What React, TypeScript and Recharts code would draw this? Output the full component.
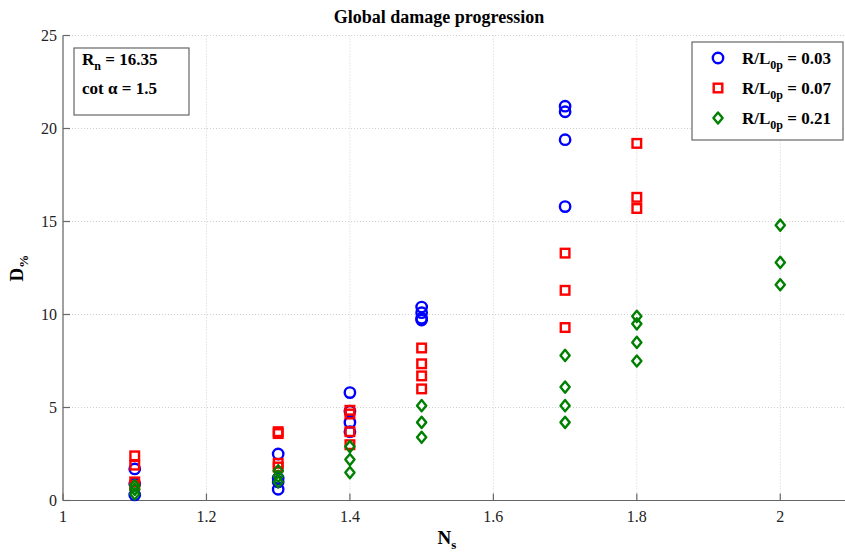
import React from 'react';
import { ScatterChart, Scatter, XAxis, YAxis, CartesianGrid, Customized } from 'recharts';

// N_s levels and D% values per series
const nsBlue = [1.1, 1.3, 1.4, 1.5, 1.7];
const dBlue = [
  [1.7, 0.9, 0.3],
  [2.5, 1.2, 1.0, 0.6],
  [5.8, 4.8, 4.2, 3.7],
  [10.4, 10.1, 9.8, 9.7],
  [21.2, 20.9, 19.4, 15.8],
];
const nsRed = [1.1, 1.3, 1.4, 1.5, 1.7, 1.8];
const dRed = [
  [2.4, 1.9, 1.0, 0.8],
  [3.7, 3.6, 2.0, 1.8],
  [4.85, 4.65, 3.7, 3.0],
  [8.2, 7.35, 6.7, 6.0],
  [13.3, 11.3, 9.3],
  [19.2, 16.3, 15.7],
];
const nsGreen = [1.1, 1.3, 1.4, 1.5, 1.7, 1.8, 2.0];
const dGreen = [
  [0.8, 0.6, 0.35],
  [1.6, 1.3, 1.0],
  [2.9, 2.2, 1.5],
  [5.1, 4.2, 3.4],
  [7.8, 6.1, 5.1, 4.2],
  [9.9, 9.5, 8.5, 7.5],
  [14.8, 12.8, 11.6],
];
const xTicks = [1, 1.2, 1.4, 1.6, 1.8, 2];
const yTicks = [0, 5, 10, 15, 20, 25];
const legendLabels = ['0.03', '0.07', '0.21'];

const toPoints = (ns: number[], d: number[][]) =>
  ns.flatMap((x, i) => d[i].map((y) => ({ x, y })));

const blueData = toPoints(nsBlue, dBlue);
const redData = toPoints(nsRed, dRed);
const greenData = toPoints(nsGreen, dGreen);

const BLUE = '#0000ff';
const RED = '#ff0000';
const GREEN = '#008000';
const SERIF = '"Liberation Serif", "Times New Roman", serif';

const CircleShape = (p: any) => (
  <circle cx={p.cx} cy={p.cy} r={5.2} fill="none" stroke={BLUE} strokeWidth={2.4} />
);
const SquareShape = (p: any) => (
  <rect x={p.cx - 4.3} y={p.cy - 4.3} width={8.6} height={8.6} fill="none" stroke={RED} strokeWidth={2.4} />
);
const DiamondShape = (p: any) => (
  <path
    d={`M${p.cx},${p.cy - 5.6} L${p.cx + 4.6},${p.cy} L${p.cx},${p.cy + 5.6} L${p.cx - 4.6},${p.cy} Z`}
    fill="none"
    stroke={GREEN}
    strokeWidth={2.4}
    strokeLinejoin="round"
  />
);

const Annotations = () => {
  const markers = [
    (cx: number, cy: number) => <CircleShape cx={cx} cy={cy} />,
    (cx: number, cy: number) => <SquareShape cx={cx} cy={cy} />,
    (cx: number, cy: number) => <DiamondShape cx={cx} cy={cy} />,
  ];
  return (
    <g>
      <text x={439} y={23} textAnchor="middle" fontFamily={SERIF} fontWeight="bold" fontSize={18} fill="#000">
        Global damage progression
      </text>
      {/* parameter box */}
      <rect x={74} y={48} width={115} height={67} fill="#fff" stroke="#666" strokeWidth={1.2} />
      <text x={82} y={65} fontFamily={SERIF} fontWeight="bold" fontSize={17} fill="#000">
        R<tspan fontSize={12} dy={5}>n</tspan>
        <tspan dy={-5}> = 16.35</tspan>
      </text>
      <text x={82} y={94} fontFamily={SERIF} fontWeight="bold" fontSize={17} fill="#000">
        cot α = 1.5
      </text>
      {/* legend */}
      <rect x={692} y={42} width={151} height={98} fill="#fff" stroke="#666" strokeWidth={1.2} />
      {legendLabels.map((lab, i) => (
        <g key={lab}>
          {markers[i](718, 58 + i * 30)}
          <text x={742} y={64 + i * 30} fontFamily={SERIF} fontWeight="bold" fontSize={17} fill="#000">
            R/L<tspan fontSize={12} dy={5}>0p</tspan>
            <tspan dy={-5}> = {lab}</tspan>
          </text>
        </g>
      ))}
      {/* axis labels */}
      <text x={23} y={268} transform="rotate(-90 23 268)" textAnchor="middle" fontFamily={SERIF} fontWeight="bold" fontSize={19} fill="#000">
        D<tspan fontSize={13} dy={5}>%</tspan>
      </text>
      <text x={447} y={544} textAnchor="middle" fontFamily={SERIF} fontWeight="bold" fontSize={19} fill="#000">
        N<tspan fontSize={13} dy={5}>s</tspan>
      </text>
    </g>
  );
};

export default function App() {
  return (
    <div style={{ position: 'absolute', left: 0, top: 0, width: 845, height: 552, overflow: 'hidden', background: '#fff' }}>
      <ScatterChart width={852} height={552} margin={{ top: 35.5, right: 0, bottom: 11.5, left: 0 }}>
        <CartesianGrid stroke="#d0d0d0" strokeDasharray="1 2" />
        <XAxis
          type="number"
          dataKey="x"
          xAxisId={0}
          domain={[1, 2.1]}
          ticks={xTicks}
          allowDataOverflow
          height={40}
          tickSize={-7}
          tickMargin={17}
          axisLine={{ stroke: '#666', strokeWidth: 1.2 }}
          tickLine={{ stroke: '#666', strokeWidth: 1.2 }}
          tick={{ fontFamily: SERIF, fontSize: 16, fill: '#222' }}
        />
        <XAxis
          type="number"
          dataKey="x"
          xAxisId="top"
          orientation="top"
          domain={[1, 2.1]}
          ticks={xTicks}
          allowDataOverflow
          height={0}
          tickSize={-7}
          tick={false}
          axisLine={{ stroke: '#666', strokeWidth: 1.2 }}
          tickLine={{ stroke: '#666', strokeWidth: 1.2 }}
        />
        <YAxis
          type="number"
          dataKey="y"
          domain={[0, 25]}
          ticks={yTicks}
          width={63}
          tickSize={-7}
          tickMargin={13}
          axisLine={{ stroke: '#666', strokeWidth: 1.2 }}
          tickLine={{ stroke: '#666', strokeWidth: 1.2 }}
          tick={{ fontFamily: SERIF, fontSize: 16, fill: '#222' }}
        />
        <Scatter data={blueData} xAxisId={0} shape={CircleShape} isAnimationActive={false} />
        <Scatter data={redData} xAxisId={0} shape={SquareShape} isAnimationActive={false} />
        <Scatter data={greenData} xAxisId={0} shape={DiamondShape} isAnimationActive={false} />
        <Customized component={Annotations} />
      </ScatterChart>
    </div>
  );
}
